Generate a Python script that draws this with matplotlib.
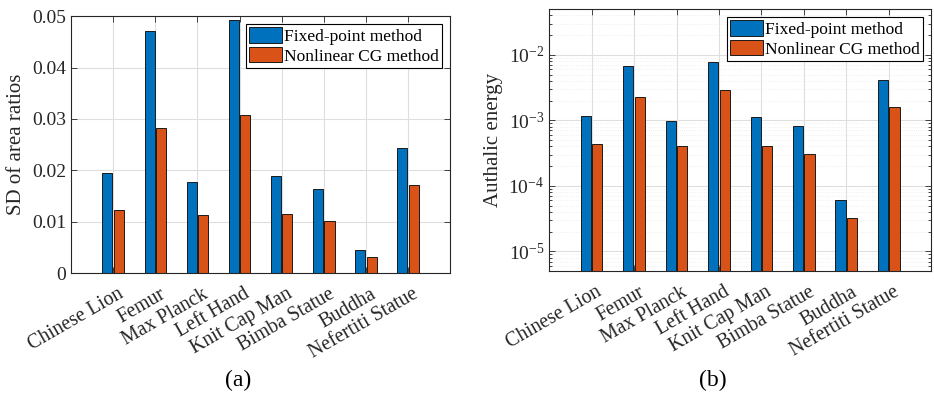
import numpy as np
import matplotlib
matplotlib.use('Agg')
import matplotlib.pyplot as plt
from matplotlib.ticker import LogLocator, NullFormatter
from matplotlib.transforms import ScaledTranslation

plt.rcParams['font.family'] = ['Liberation Serif', 'DejaVu Serif']
plt.rcParams['mathtext.fontset'] = 'custom'
plt.rcParams['mathtext.rm'] = 'Liberation Serif'
plt.rcParams['mathtext.it'] = 'Liberation Serif:italic'

# dados
models = ['Chinese Lion', 'Femur', 'Max Planck', 'Left Hand', 'Knit Cap Man',
          'Bimba Statue', 'Buddha', 'Nefertiti Statue']
sd_fixed = [0.0195, 0.0471, 0.0178, 0.0492, 0.0189, 0.0163, 0.0045, 0.0244]
sd_cg = [0.0123, 0.0282, 0.0112, 0.0308, 0.0115, 0.0102, 0.0032, 0.0171]
en_fixed = [1.16e-3, 6.8e-3, 9.9e-4, 7.7e-3, 1.14e-3, 8.2e-4, 6.1e-5, 4.1e-3]
en_cg = [4.3e-4, 2.3e-3, 4.0e-4, 2.9e-3, 4.0e-4, 3.07e-4, 3.2e-5, 1.62e-3]

blue = '#0072BD'
orange = '#D95319'
txt = '#262626'

fig = plt.figure(figsize=(9.34, 3.94), dpi=100)
ax1 = fig.add_axes([0.076, 0.307, 0.406, 0.652])
ax2 = fig.add_axes([0.588, 0.312, 0.409, 0.665])

x = np.arange(1, len(models) + 1)
w = 0.24
off = 0.135
shift = ScaledTranslation(0.09, -0.06, fig.dpi_scale_trans)


def style(ax):
    ax.set_axisbelow(True)
    ax.grid(True, which='major', color='#dedede', linewidth=0.8)
    ax.tick_params(direction='in', top=True, right=True, colors=txt,
                   labelsize=14, length=4, width=0.6)
    ax.tick_params(axis='x', labelsize=14.3, pad=10)
    for s in ax.spines.values():
        s.set_color(txt)
        s.set_linewidth(0.8)
    ax.set_xlim(0, 9)
    ax.set_xticks(x)
    ax.set_xticklabels(models, rotation=30, ha='right', va='center',
                       rotation_mode='anchor')
    for lab in ax.get_xticklabels():
        lab.set_transform(lab.get_transform() + shift)
    leg = ax.legend(loc='upper right', fontsize=12.5, fancybox=False,
                    framealpha=1, edgecolor='black', borderpad=0.2,
                    handlelength=1.9, handleheight=1.0, handletextpad=0.1,
                    labelspacing=0.1, borderaxespad=0.45)
    leg.get_frame().set_linewidth(0.8)


# (a) desvio padrão
ax1.bar(x - off, sd_fixed, w, color=blue, edgecolor='#1a1a1a', linewidth=0.7,
        label='Fixed-point method')
ax1.bar(x + off, sd_cg, w, color=orange, edgecolor='#1a1a1a', linewidth=0.7,
        label='Nonlinear CG method')
ax1.set_ylim(0, 0.05)
ax1.set_yticks([0, 0.01, 0.02, 0.03, 0.04, 0.05])
ax1.set_yticklabels(['0', '0.01', '0.02', '0.03', '0.04', '0.05'])
ax1.set_ylabel('SD of area ratios', fontsize=15, color=txt, labelpad=4)
style(ax1)

# (b) energia autálica
ax2.bar(x - off, en_fixed, w, color=blue, edgecolor='#1a1a1a', linewidth=0.7,
        label='Fixed-point method')
ax2.bar(x + off, en_cg, w, color=orange, edgecolor='#1a1a1a', linewidth=0.7,
        label='Nonlinear CG method')
ax2.set_yscale('log')
ax2.set_ylim(5e-6, 5e-2)
ax2.set_yticks([1e-5, 1e-4, 1e-3, 1e-2])
ax2.yaxis.set_minor_locator(LogLocator(base=10, subs=np.arange(2, 10)))
ax2.yaxis.set_minor_formatter(NullFormatter())
ax2.grid(True, which='minor', color='#ececec', linewidth=0.6, linestyle=':')
ax2.set_ylabel('Authalic energy', fontsize=15, color=txt, labelpad=4)
style(ax2)
ax2.tick_params(which='minor', direction='in', right=True, length=2, colors=txt)

fig.text(0.255, 0.035, '(a)', fontsize=17, ha='center', va='center')
fig.text(0.763, 0.035, '(b)', fontsize=17, ha='center', va='center')

plt.savefig('out.png', dpi=100)
